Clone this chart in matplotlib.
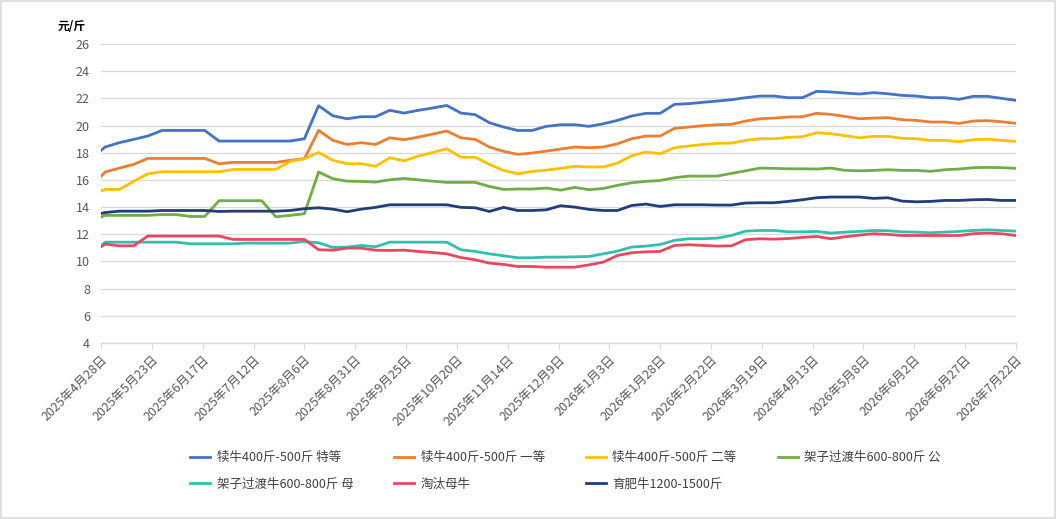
"""
plot.py - Bieu do gia bo (元/斤) theo tuan.
Output: out.png
"""

import pandas as pd
import matplotlib
matplotlib.use("Agg")
import matplotlib.pyplot as plt
from matplotlib.patches import Rectangle

plt.rcParams["font.family"] = ["Noto Sans CJK SC", "DejaVu Sans"]

# Ngay lay mau: 4/28 roi moi tuan tu 4/30
dates = [pd.Timestamp("2025-04-28")] + list(pd.date_range("2025-04-30", periods=65, freq="7D"))

tick_dates = ["2025-04-28", "2025-05-23", "2025-06-17", "2025-07-12", "2025-08-06",
              "2025-08-31", "2025-09-25", "2025-10-20", "2025-11-14", "2025-12-09",
              "2026-01-03", "2026-01-28", "2026-02-22", "2026-03-19", "2026-04-13",
              "2026-05-08", "2026-06-02", "2026-06-27", "2026-07-22"]

labels = ["犊牛400斤-500斤 特等", "犊牛400斤-500斤 一等", "犊牛400斤-500斤 二等",
          "架子过渡牛600-800斤 公", "架子过渡牛600-800斤 母", "淘汰母牛", "育肥牛1200-1500斤"]

calf_special = [18.17, 18.42, 18.74, 18.98, 19.23, 19.64, 19.64, 19.64, 19.64, 18.86, 18.86,
                18.86, 18.86, 18.86, 18.86, 19.03, 21.46, 20.72, 20.5, 20.65, 20.65, 21.12,
                20.92, 21.12, 21.29, 21.48, 20.92, 20.8, 20.21, 19.89, 19.64, 19.64, 19.94,
                20.06, 20.06, 19.94, 20.13, 20.38, 20.7, 20.9, 20.9, 21.56, 21.61, 21.71,
                21.8, 21.9, 22.05, 22.17, 22.17, 22.05, 22.05, 22.52, 22.47, 22.39, 22.32,
                22.42, 22.34, 22.22, 22.17, 22.05, 22.05, 21.93, 22.15, 22.15, 22.0, 21.85]

calf_first = [16.26, 16.58, 16.87, 17.14, 17.58, 17.58, 17.58, 17.58, 17.58, 17.19, 17.29,
              17.29, 17.29, 17.29, 17.44, 17.56, 19.64, 18.91, 18.61, 18.74, 18.61, 19.1,
              18.96, 19.15, 19.37, 19.6, 19.1, 18.98, 18.42, 18.1, 17.88, 17.98, 18.12,
              18.27, 18.42, 18.37, 18.42, 18.66, 19.03, 19.23, 19.23, 19.79, 19.89, 19.99,
              20.06, 20.09, 20.33, 20.5, 20.55, 20.63, 20.65, 20.9, 20.82, 20.67, 20.5,
              20.55, 20.58, 20.43, 20.38, 20.26, 20.26, 20.16, 20.33, 20.36, 20.28, 20.16]

calf_second = [15.18, 15.3, 15.3, 15.89, 16.45, 16.6, 16.6, 16.6, 16.6, 16.6, 16.77,
               16.77, 16.77, 16.77, 17.36, 17.56, 18.02, 17.44, 17.19, 17.19, 17.0, 17.63,
               17.41, 17.75, 18.02, 18.29, 17.67, 17.67, 17.14, 16.7, 16.45, 16.63, 16.72,
               16.85, 17.0, 16.95, 16.95, 17.24, 17.78, 18.05, 17.93, 18.37, 18.49, 18.61,
               18.69, 18.71, 18.91, 19.03, 19.03, 19.13, 19.18, 19.47, 19.4, 19.25, 19.1,
               19.2, 19.2, 19.06, 19.03, 18.91, 18.91, 18.81, 18.96, 19.0, 18.91, 18.83]

frame_male = [13.26, 13.39, 13.39, 13.39, 13.39, 13.45, 13.45, 13.31, 13.31, 14.47, 14.47,
              14.47, 14.47, 13.29, 13.39, 13.51, 16.58, 16.09, 15.91, 15.89, 15.84, 16.01,
              16.11, 16.01, 15.91, 15.82, 15.82, 15.82, 15.52, 15.3, 15.33, 15.33, 15.4,
              15.25, 15.45, 15.28, 15.37, 15.6, 15.79, 15.89, 15.96, 16.16, 16.28, 16.28,
              16.28, 16.48, 16.67, 16.87, 16.85, 16.82, 16.82, 16.8, 16.87, 16.7, 16.67,
              16.7, 16.75, 16.7, 16.7, 16.63, 16.75, 16.8, 16.9, 16.92, 16.9, 16.85]

frame_female = [11.15, 11.42, 11.42, 11.42, 11.42, 11.42, 11.42, 11.3, 11.3, 11.3, 11.3,
                11.35, 11.35, 11.35, 11.35, 11.47, 11.37, 11.03, 11.06, 11.18, 11.08, 11.42,
                11.42, 11.42, 11.42, 11.42, 10.86, 10.74, 10.56, 10.42, 10.27, 10.27, 10.32,
                10.32, 10.34, 10.37, 10.56, 10.76, 11.06, 11.13, 11.25, 11.55, 11.67, 11.67,
                11.72, 11.91, 12.23, 12.28, 12.28, 12.18, 12.18, 12.21, 12.09, 12.16, 12.21,
                12.28, 12.26, 12.18, 12.16, 12.11, 12.16, 12.21, 12.28, 12.33, 12.28, 12.23]

cull_cow = [11.08, 11.28, 11.15, 11.15, 11.87, 11.87, 11.87, 11.87, 11.87, 11.87, 11.62,
            11.62, 11.62, 11.62, 11.62, 11.62, 10.86, 10.83, 10.98, 10.98, 10.83, 10.81,
            10.83, 10.74, 10.66, 10.56, 10.29, 10.12, 9.88, 9.78, 9.63, 9.63, 9.58,
            9.58, 9.58, 9.75, 9.95, 10.44, 10.64, 10.71, 10.74, 11.18, 11.23, 11.18,
            11.13, 11.15, 11.6, 11.67, 11.64, 11.69, 11.77, 11.84, 11.67, 11.82, 11.94,
            12.04, 11.99, 11.91, 11.91, 11.91, 11.91, 11.91, 12.04, 12.09, 12.04, 11.91]

fattening = [13.53, 13.6, 13.7, 13.7, 13.7, 13.75, 13.75, 13.75, 13.75, 13.68, 13.7,
             13.7, 13.7, 13.7, 13.75, 13.88, 13.95, 13.85, 13.66, 13.85, 13.98, 14.17,
             14.17, 14.17, 14.17, 14.17, 13.98, 13.95, 13.68, 13.98, 13.75, 13.75, 13.8,
             14.1, 14.0, 13.83, 13.75, 13.75, 14.12, 14.22, 14.05, 14.17, 14.17, 14.17,
             14.15, 14.15, 14.3, 14.32, 14.32, 14.42, 14.54, 14.69, 14.74, 14.74, 14.74,
             14.64, 14.69, 14.44, 14.39, 14.42, 14.49, 14.49, 14.54, 14.56, 14.49, 14.49]

series = [calf_special, calf_first, calf_second, frame_male, frame_female, cull_cow, fattening]
colors = ["#4472C4", "#ED7D31", "#FFC000", "#70AD47", "#33BFB0", "#E6495F", "#203D7A"]


def main():
    fig = plt.figure(figsize=(10.57, 5.19), dpi=100)
    ax = fig.add_axes([0.0956, 0.3391, 0.8656, 0.5761])

    handles = []
    for vals, lab, col in zip(series, labels, colors):
        h, = ax.plot(dates, vals, color=col, lw=2.0, label=lab, solid_joinstyle="round")
        handles.append(h)

    ax.set_ylim(4, 26)
    ax.set_yticks(range(4, 27, 2))
    ax.set_xlim(pd.Timestamp(tick_dates[0]), pd.Timestamp(tick_dates[-1]))
    ticks = [pd.Timestamp(t) for t in tick_dates]
    ax.set_xticks(ticks)
    ax.set_xticklabels([f"{t.year}年{t.month}月{t.day}日" for t in ticks],
                       rotation=45, ha="right", rotation_mode="anchor")

    ax.grid(axis="y", color="#d9d9d9", lw=0.9)
    ax.set_axisbelow(True)
    for s in ["top", "right", "left"]:
        ax.spines[s].set_visible(False)
    ax.spines["bottom"].set_color("#d9d9d9")
    ax.spines["bottom"].set_linewidth(1.0)
    ax.tick_params(axis="y", length=0, labelsize=9, colors="#595959", pad=8)
    ax.tick_params(axis="x", length=4, color="#d9d9d9", labelsize=9, labelcolor="#595959", pad=3)

    fig.text(0.068, 1 - 26 / 519, "元/斤", fontsize=8.5, fontweight="bold", ha="center", va="center")

    # Dao thu tu de legend xep theo hang
    order = [0, 4, 1, 5, 2, 6, 3]
    fig.legend([handles[i] for i in order], [labels[i] for i in order],
               ncol=4, loc="center", bbox_to_anchor=(0.535, 0.0925), frameon=False,
               fontsize=9, handlelength=1.6, handletextpad=0.5, columnspacing=3.3,
               labelspacing=1.1, labelcolor="#404040")

    fig.patches.append(Rectangle((0.001, 0.001), 0.997, 0.997, transform=fig.transFigure,
                                 fill=False, edgecolor="#d9d9d9", lw=1.2))

    fig.savefig("out.png", dpi=100)
    plt.close(fig)


if __name__ == "__main__":
    main()
